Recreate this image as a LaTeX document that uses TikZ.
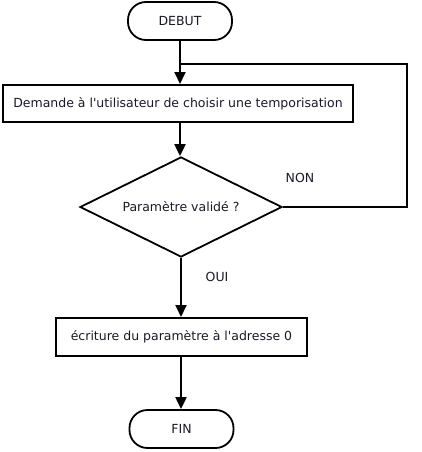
\documentclass[tikz,border=0pt]{standalone}
\usepackage{fontspec}
\setmainfont{DejaVu Sans}
\usetikzlibrary{shapes.geometric,arrows.meta}
\definecolor{txt}{RGB}{25,25,40}
\begin{document}
\begin{tikzpicture}[x=1pt,y=-1pt,
  every node/.style={font=\fontsize{12.5}{14}\selectfont, text=txt},
  arr/.style={line width=2pt, -{Triangle[length=12pt,width=11pt]}},
  terminal/.style={draw, line width=1.8pt, rounded corners=18pt, minimum width=104pt, minimum height=38pt, inner sep=0pt},
  process/.style={draw, line width=2pt, inner sep=0pt},
  decision/.style={draw, line width=1.8pt, diamond, aspect=2, inner sep=0pt, minimum width=202pt, minimum height=100pt}]
\useasboundingbox (0,0) rectangle (421,452);
\node[terminal] (debut) at (180,21) {DEBUT};
\node[process, minimum width=350pt, minimum height=37pt] (ask) at (178,103.5) {Demande à l\textquotesingle utilisateur de choisir une temporisation};
\node[decision] (dec) at (181,207) {Paramètre validé ?};
\node[process, minimum width=251pt, minimum height=38pt] (write) at (181.5,337) {écriture du paramètre à l\textquotesingle adresse 0};
\node[terminal] (fin) at (181.5,429) {FIN};
\node (non) at (300,178) {NON};
\node (oui) at (217,277) {OUI};
\coordinate (join) at (180,64);
\coordinate (c1) at (407,207);
\coordinate (c2) at (407,64);
\draw[arr] (debut.south) -- (ask.north -| debut.south);
\draw[line width=2pt] (dec.east) -- (c1) -- (c2) -- (join);
\draw[arr] (ask.south -| 180,0) -- (dec.north -| 180,0);
\draw[arr] (dec.south) -- (write.north -| dec.south);
\draw[arr] (write.south -| dec.south) -- (fin.north -| dec.south);
\end{tikzpicture}
\end{document}
